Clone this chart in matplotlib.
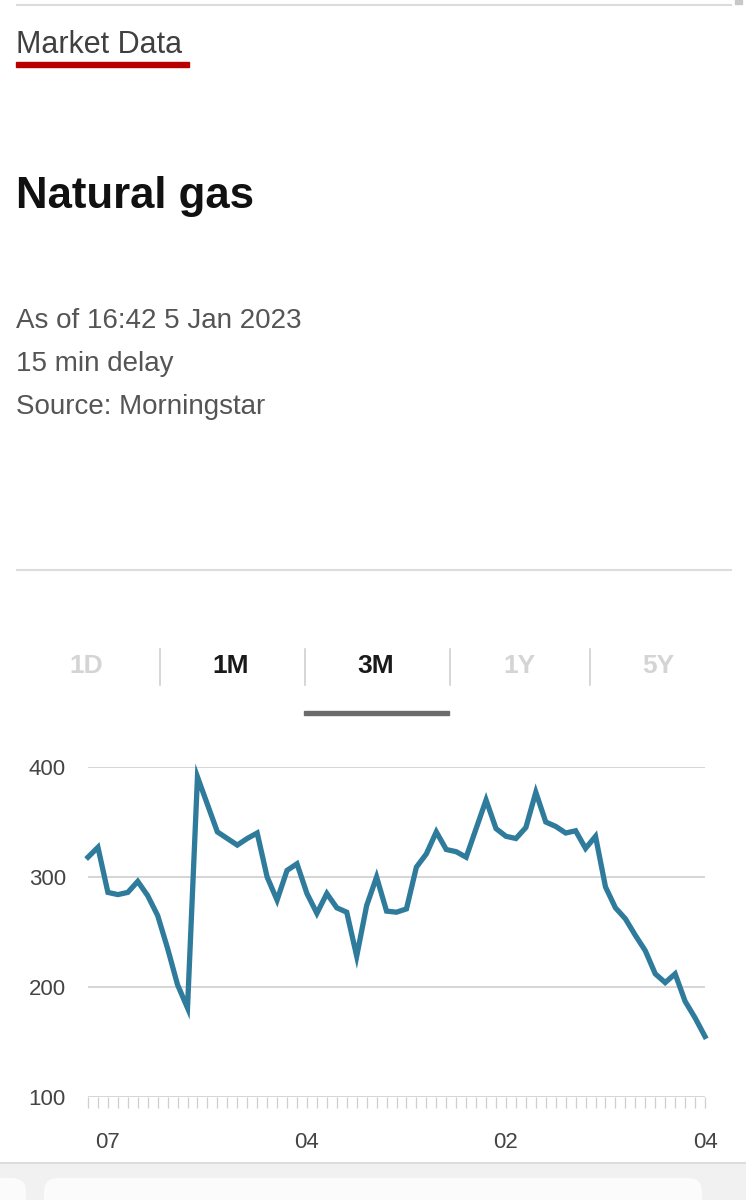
import matplotlib
matplotlib.use('Agg')
import matplotlib.pyplot as plt
from matplotlib.patches import Rectangle, FancyBboxPatch
import numpy as np

plt.rcParams['font.family'] = ['Liberation Sans', 'DejaVu Sans']

# prezzi gas naturale, 3 mesi (un punto per seduta)
prezzi = [318, 327, 286, 284, 286, 296, 283, 265, 235, 202, 181,
          391, 366, 341, 335, 329, 335, 340, 300, 279, 306,
          312, 285, 267, 285, 272, 268, 228, 274, 300, 269,
          268, 271, 309, 321, 341, 325, 323, 318, 344, 370,
          344, 337, 335, 345, 377, 350, 346, 340, 342, 326,
          337, 291, 272, 262, 247, 233, 212, 204, 212, 187,
          172, 155]
giorni = np.arange(len(prezzi))
etichette_x = ['07', '04', '02', '04']
pos_etichette = [2, 22, 42, 62]
valori_y = [100, 200, 300, 400]
schede = ['1D', '1M', '3M', '1Y', '5Y']
schede_attive = ['1M', '3M']

W, H = 746, 1200
fig = plt.figure(figsize=(W / 100, H / 100), dpi=100)

# sfondo in coordinate pixel
bg = fig.add_axes([0, 0, 1, 1])
bg.set_xlim(0, W)
bg.set_ylim(H, 0)
bg.axis('off')

bg.plot([17, 731], [5, 5], color='#dcdcdc', lw=1.5)
bg.add_patch(Rectangle((735, 0), 7, 4, color='#c8c8c8'))
bg.text(16, 53, 'Market Data', fontsize=22, color='#404040', va='baseline')
bg.add_patch(Rectangle((16, 62), 173, 5, color='#b80000'))
bg.text(16, 208, 'Natural gas', fontsize=31.5, fontweight='bold', color='#111111', va='baseline')
bg.text(16, 328, 'As of 16:42 5 Jan 2023', fontsize=20, color='#555555', va='baseline')
bg.text(16, 371, '15 min delay', fontsize=20, color='#555555', va='baseline')
bg.text(16, 414, 'Source: Morningstar', fontsize=20, color='#555555', va='baseline')
bg.plot([17, 731], [570, 570], color='#dcdcdc', lw=1.5)

# schede periodo
centri = [86, 231, 376, 519, 658]
for s, cx in zip(schede, centri):
    col = '#1a1a1a' if s in schede_attive else '#d4d4d4'
    bg.text(cx, 666, s, fontsize=19, fontweight='bold', color=col, ha='center', va='center')
for sx in [160, 305, 450, 590]:
    bg.plot([sx, sx], [649, 685], color='#d0d0d0', lw=1.2)
bg.add_patch(Rectangle((304, 711), 145, 4, color='#6b6b6b'))

# fondo pagina
bg.add_patch(Rectangle((0, 1163), W, 40, color='#f1f1f1'))
bg.plot([0, W], [1163, 1163], color='#d8d8d8', lw=1.2)
bg.add_patch(FancyBboxPatch((44, 1178), 658, 60, boxstyle='round,pad=0,rounding_size=14',
                            facecolor='#fbfbfb', edgecolor='none'))
bg.add_patch(FancyBboxPatch((-30, 1178), 56, 60, boxstyle='round,pad=0,rounding_size=14',
                            facecolor='#fbfbfb', edgecolor='none'))

# grafico
ax = fig.add_axes([88 / W, (H - 1097) / H, (705 - 88) / W, (1097 - 767) / H])
ax.patch.set_alpha(0)
ax.plot(giorni, prezzi, color='#2f7b9c', lw=3.8, solid_joinstyle='miter', clip_on=False, zorder=3)
ax.set_xlim(0, len(prezzi) - 1)
ax.set_ylim(100, 400)
for s in ax.spines.values():
    s.set_visible(False)
ax.set_yticks(valori_y)
ax.set_yticklabels([str(v) for v in valori_y])
ax.grid(axis='y', color='#d2d2d2', lw=1.3)
ax.tick_params(axis='y', length=0, pad=16, labelsize=16, labelcolor='#444444')
ax.set_xticks(giorni, minor=True)
ax.set_xticks(pos_etichette)
ax.set_xticklabels(etichette_x)
ax.tick_params(axis='x', which='both', direction='out', length=8, width=0.9, color='#cfcfcf')
ax.tick_params(axis='x', which='major', pad=17, labelsize=16, labelcolor='#444444')

fig.savefig('out.png', dpi=100)
